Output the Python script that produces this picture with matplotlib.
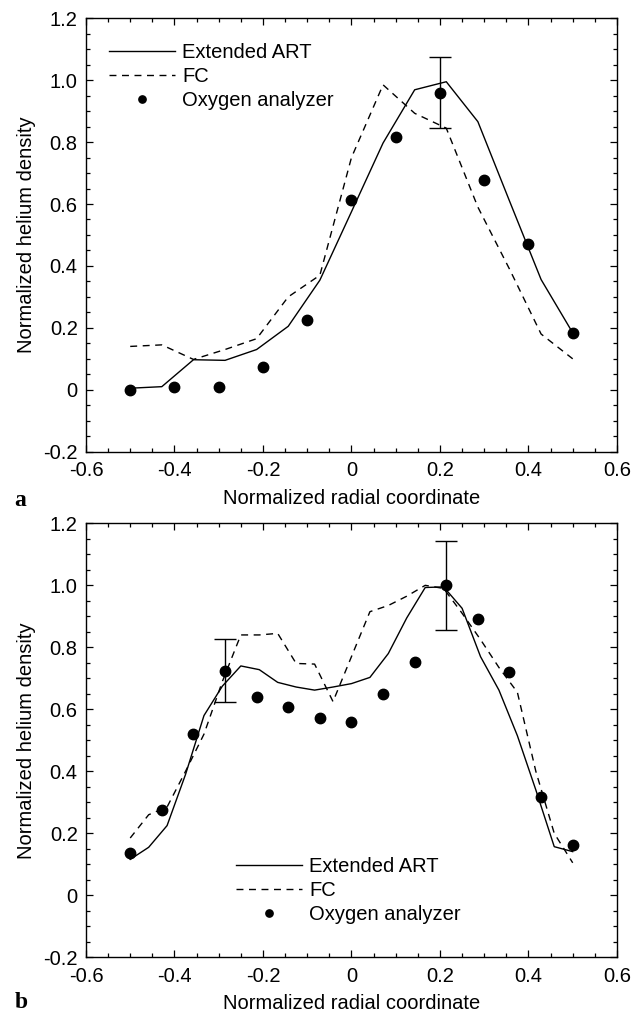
import numpy as np
import matplotlib
matplotlib.use("Agg")
import matplotlib.pyplot as plt
from matplotlib.ticker import MultipleLocator, FuncFormatter

# --- panel a -------------------------------------------------------------
a_line_x = [-0.5, -0.4286, -0.3571, -0.2857, -0.2143, -0.1429, -0.0714, 0.0,
            0.0714, 0.1429, 0.2143, 0.2857, 0.3571, 0.4286, 0.5]
a_art = [0.005, 0.01, 0.097, 0.095, 0.13, 0.205, 0.354, 0.575,
         0.797, 0.969, 0.995, 0.866, 0.61, 0.356, 0.184]
a_fc = [0.14, 0.145, 0.098, 0.13, 0.165, 0.30, 0.37, 0.75,
        0.985, 0.893, 0.845, 0.59, 0.39, 0.18, 0.10]
a_oxy_x = [-0.5, -0.4, -0.3, -0.2, -0.1, 0.0, 0.1, 0.2, 0.3, 0.4, 0.5]
a_oxy = [0.0, 0.008, 0.008, 0.072, 0.224, 0.612, 0.818, 0.96, 0.678, 0.47, 0.184]
a_err_x = [0.2]
a_err_y = [0.96]
a_err = [0.115]

# --- panel b -------------------------------------------------------------
b_line_x = [-0.5, -0.4583, -0.4167, -0.375, -0.3333, -0.2917, -0.25, -0.2083,
            -0.1667, -0.125, -0.0833, -0.0417, 0.0, 0.0417, 0.0833, 0.125,
            0.1667, 0.2083, 0.25, 0.2917, 0.3333, 0.375, 0.4167, 0.4583, 0.5]
b_art = [0.116, 0.155, 0.225, 0.39, 0.58, 0.675, 0.74, 0.728,
         0.687, 0.672, 0.662, 0.672, 0.683, 0.703, 0.78, 0.895,
         0.993, 0.995, 0.926, 0.77, 0.662, 0.515, 0.34, 0.157, 0.141]
b_fc = [0.185, 0.26, 0.285, 0.40, 0.52, 0.69, 0.84, 0.84,
        0.845, 0.748, 0.746, 0.625, 0.77, 0.915, 0.935, 0.965,
        1.0, 0.99, 0.91, 0.825, 0.735, 0.655, 0.40, 0.20, 0.105]
b_oxy_x = [-0.5, -0.4286, -0.3571, -0.2857, -0.2143, -0.1429, -0.0714, 0.0,
           0.0714, 0.1429, 0.2143, 0.2857, 0.3571, 0.4286, 0.5]
b_oxy = [0.135, 0.275, 0.519, 0.724, 0.641, 0.608, 0.573, 0.559,
         0.648, 0.754, 1.0, 0.89, 0.72, 0.318, 0.162]
b_err_x = [-0.2857, 0.2143]
b_err_y = [0.725, 1.0]
b_err = [0.102, 0.144]

LABELS = ["Extended ART", "FC", "Oxygen analyzer"]
FS = 14.5

plt.rcParams.update({
    "font.family": ["Liberation Sans", "DejaVu Sans"],
    "font.size": FS,
    "axes.linewidth": 1.0,
})


def fmt(v, _pos):
    if abs(v) < 1e-9:
        return "0"
    return f"{v:.1f}".replace("\u2212", "-")


def panel(ax, lx, art, fc, ox, oy, ex, ey, ee, legend_anchor):
    ax.plot(lx, art, color="black", lw=1.0, label=LABELS[0])
    ax.plot(lx, fc, color="black", lw=1.0, ls=(0, (5, 4)), label=LABELS[1])
    ax.plot(ox, oy, "o", color="black", ms=7.5, ls="none", label=LABELS[2])
    ax.errorbar(ex, ey, yerr=ee, fmt="none", ecolor="black", elinewidth=1.0,
                capsize=8, capthick=1.0)

    ax.set_xlim(-0.6, 0.6)
    ax.set_ylim(-0.2, 1.2)
    ax.xaxis.set_major_locator(MultipleLocator(0.2))
    ax.xaxis.set_minor_locator(MultipleLocator(0.05))
    ax.yaxis.set_major_locator(MultipleLocator(0.2))
    ax.yaxis.set_minor_locator(MultipleLocator(0.05))
    ax.xaxis.set_major_formatter(FuncFormatter(fmt))
    ax.yaxis.set_major_formatter(FuncFormatter(fmt))
    ax.tick_params(which="both", direction="in", top=True, right=True, width=0.9)
    ax.tick_params(which="major", length=5)
    ax.tick_params(which="minor", length=3)
    ax.tick_params(axis="x", pad=7)
    ax.tick_params(axis="y", pad=6)

    ax.set_xlabel("Normalized radial coordinate", labelpad=6)
    ax.set_ylabel("Normalized helium density", labelpad=5)

    ax.legend(loc="upper left", bbox_to_anchor=legend_anchor, frameon=False,
              handlelength=3.3, handletextpad=0.35, labelspacing=0.25,
              markerscale=0.7, borderpad=0, borderaxespad=0, fontsize=FS)


fig = plt.figure(figsize=(6.34, 10.15), dpi=100)
ax_a = fig.add_axes([0.1356, 0.555, 0.8375, 0.427])
ax_b = fig.add_axes([0.1356, 0.0568, 0.8375, 0.4276])

panel(ax_a, a_line_x, a_art, a_fc, a_oxy_x, a_oxy, a_err_x, a_err_y, a_err,
      (0.043, 0.943))
panel(ax_b, b_line_x, b_art, b_fc, b_oxy_x, b_oxy, b_err_x, b_err_y, b_err,
      (0.2825, 0.232))

fig.text(20 / 634, 1 - 500 / 1015, "a", family=["Liberation Serif", "DejaVu Serif"],
         fontweight="bold", fontsize=17, ha="center", va="center")
fig.text(21 / 634, 1 - 1003 / 1015, "b", family=["Liberation Serif", "DejaVu Serif"],
         fontweight="bold", fontsize=17, ha="center", va="center")

fig.savefig("out.png", dpi=100, facecolor="white")
